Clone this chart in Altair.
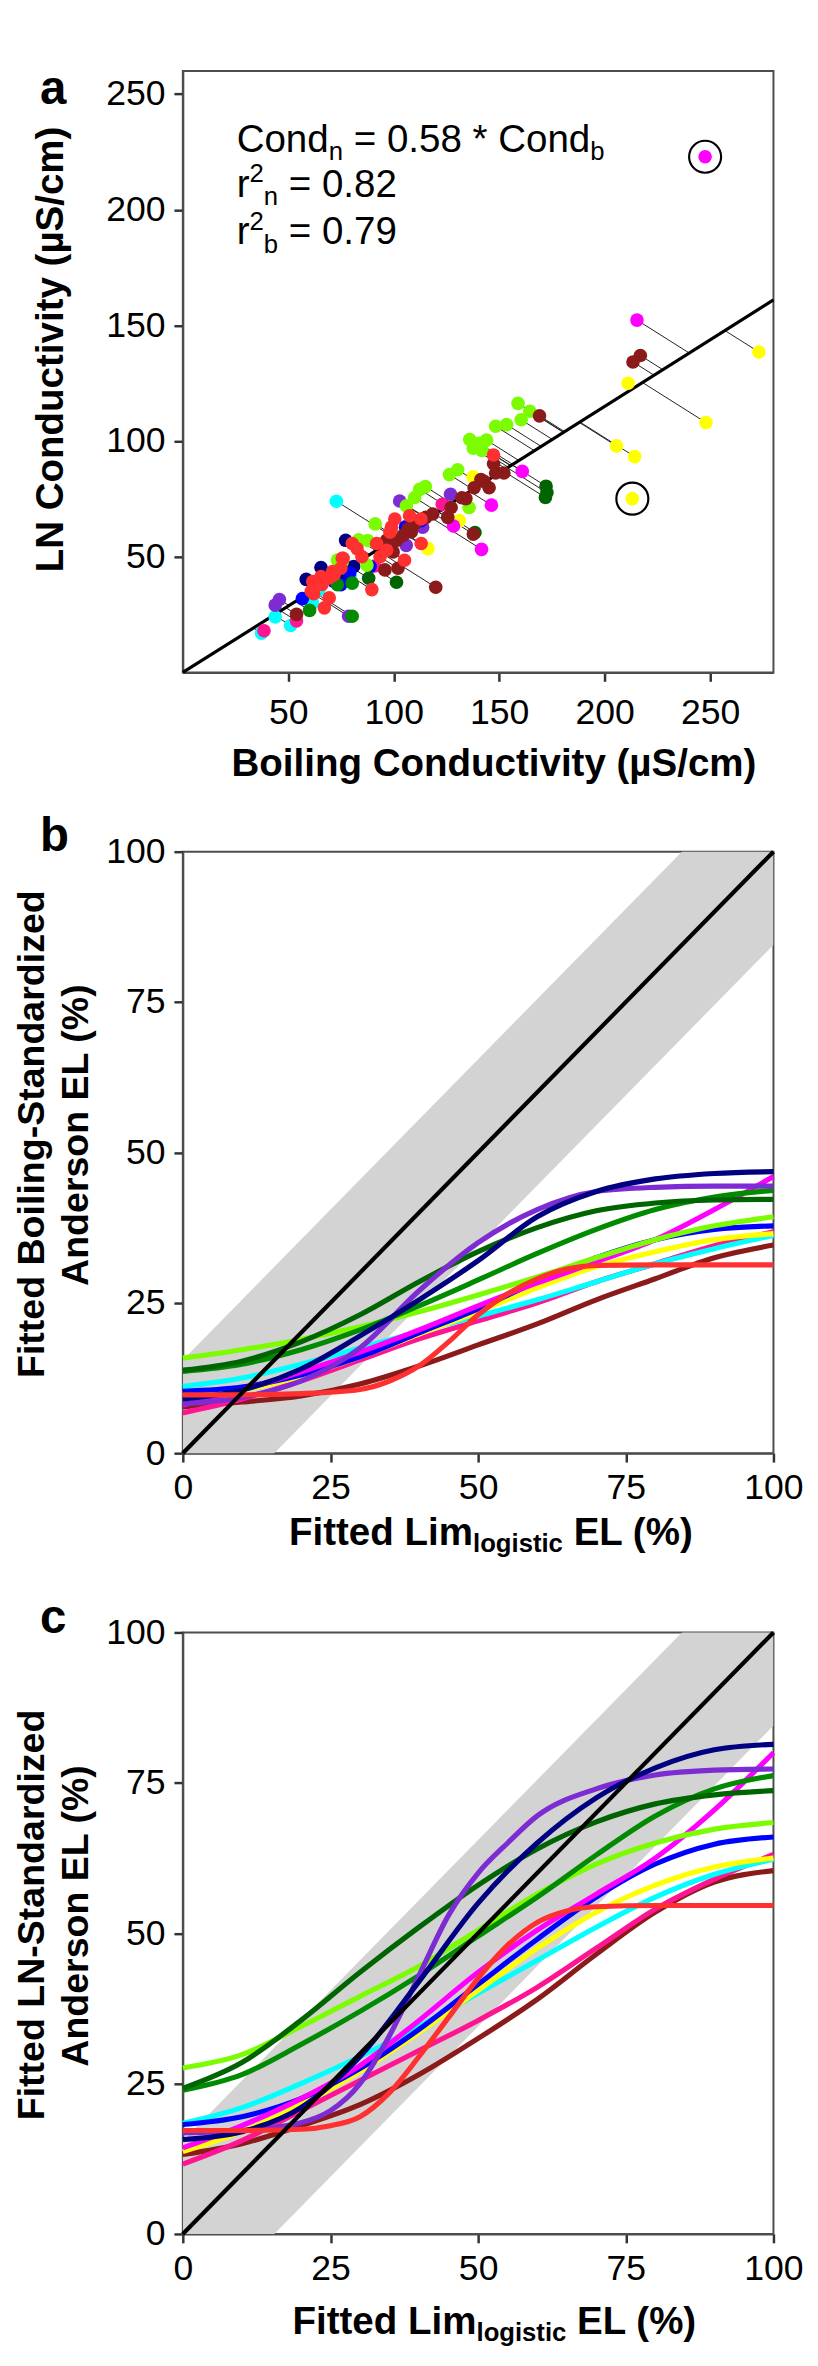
import altair as alt
import pandas as pd

FONT = "Liberation Sans"
W, H = 598, 609
SLOPE = 0.575

# ---------------- Panel a: Boiling (x) vs LN (y) conductivity ----------------
groups = ["cyan", "deeppink", "purple", "navy", "blue", "green", "darkgreen",
          "yellow", "magenta", "chartreuse", "brown", "red"]
palette = ["#00FFFF", "#FF1493", "#7D2BD3", "#000080", "#0000FF", "#008B00",
           "#006400", "#FFFF00", "#FF00FF", "#7CFC00", "#8B1A1A", "#FF3030"]

cyan_b = [72.8, 37.3, 43.8, 51.1, 61.5, 64.6, 79.4]
cyan_n = [74.0, 17.0, 24.0, 20.3, 30.0, 35.7, 42.0]
deeppink_b = [38.5, 53.9, 123.0, 91.0]
deeppink_n = [18.0, 22.3, 72.7, 46.0]
purple_b = [43.8, 45.8, 78.6, 102.8, 126.9, 105.9, 113.7]
purple_n = [29.1, 31.5, 24.3, 74.1, 77.0, 54.9, 62.8]
navy_b = [58.5, 65.5, 77.2, 74.9, 81.0, 70.5]
navy_n = [40.2, 45.3, 57.1, 40.8, 45.8, 42.5]
blue_b = [56.7, 71.7, 88.8, 74.9, 105.6, 112.9, 79.0]
blue_n = [31.9, 39.3, 45.8, 37.9, 62.9, 65.6, 43.0]
green_b = [60.1, 80.3, 80.3, 73.3]
green_n = [26.8, 24.3, 38.6, 37.9]
darkgreen_b = [88.1, 101.3, 138.5, 172.2, 172.6, 171.9]
darkgreen_n = [40.7, 39.0, 60.5, 80.5, 77.7, 75.6]
yellow_b = [273.1, 211.1, 248.0, 205.6, 214.2, 137.6, 131.1, 116.2]
yellow_n = [138.5, 125.0, 108.0, 97.9, 93.3, 84.5, 65.6, 53.5]
magenta_b = [215.3, 160.9, 146.3, 128.3, 141.6]
magenta_n = [152.3, 86.9, 72.3, 63.3, 53.2]
chartreuse_b = [158.9, 164.5, 160.4, 148.3, 153.5, 136.0, 140.6, 144.0, 137.7, 141.8,
                126.4, 130.3, 135.7, 112.3, 115.0, 106.0, 109.9, 83.4, 87.7, 91.2,
                73.3, 87.3, 75.6]
chartreuse_n = [116.3, 112.9, 109.2, 106.4, 107.1, 100.7, 99.0, 100.4, 96.9, 95.9,
                85.5, 87.6, 71.3, 79.1, 80.3, 72.0, 75.6, 57.3, 57.0, 64.2,
                48.6, 46.4, 47.8]
brown_b = [216.9, 213.4, 169.1, 147.3, 152.2, 148.3, 142.8, 145.2, 138.1, 134.2,
           141.3, 127.2, 125.6, 118.5, 108.3, 137.7, 101.3, 104.4, 106.7, 109.8,
           96.6, 99.7, 102.0, 95.8, 119.9, 53.9, 115.2, 132.3]
brown_n = [137.0, 134.2, 110.9, 90.2, 86.2, 86.2, 82.6, 79.8, 79.8, 75.1,
           83.4, 71.3, 67.0, 68.5, 60.7, 59.8, 57.1, 59.2, 62.0, 64.2,
           57.1, 52.1, 45.0, 44.3, 36.8, 25.1, 67.0, 75.5]
red_b = [147.3, 113.0, 107.5, 80.3, 82.6, 84.9, 91.9, 93.5, 96.6, 98.2,
         100.5, 98.9, 105.1, 112.9, 89.6, 75.6, 71.7, 65.5, 61.6, 60.9,
         69.4, 67.1, 71.0, 74.9, 62.4, 69.4, 76.0, 62.0, 66.0]
red_n = [94.0, 55.7, 67.7, 55.7, 53.5, 50.0, 55.7, 50.0, 52.8, 60.6,
         66.3, 62.8, 48.5, 66.3, 35.8, 49.3, 42.2, 41.4, 39.3, 35.1,
         32.2, 27.9, 43.6, 45.0, 37.2, 40.8, 49.3, 34.0, 38.0]
# circled outliers (excluded from the fit)
outlier_grp = ["magenta", "yellow"]
outlier_b = [247.6, 213.1]
outlier_n = [222.9, 75.1]

fit_x = [0, 280]

# ---------------- Panels b and c: fitted curves ----------------
XG = [0, 10, 20, 30, 40, 50, 60, 70, 80, 90, 100]
b_red_x = [0, 10, 20, 30, 35, 40, 45, 50, 55, 60, 65, 70, 80, 100]
c_fine_x = [0, 10, 20, 25, 30, 35, 40, 45, 50, 55, 60, 65, 70, 80, 100]
c_purple_x = [0, 10, 20, 25, 30, 35, 40, 45, 50, 55, 60, 70, 80, 90, 100]

b_brown = [7.7, 8.5, 9.5, 11.5, 14.5, 18.0, 21.5, 25.5, 29.0, 32.5, 34.6]
b_deeppink = [6.7, 9.0, 12.0, 15.5, 19.0, 22.0, 25.0, 28.5, 31.5, 34.5, 36.8]
b_cyan = [11.1, 12.5, 14.8, 17.5, 20.2, 22.8, 25.5, 28.5, 31.5, 34.0, 36.2]
b_yellow = [9.5, 10.5, 12.8, 16.0, 19.8, 23.5, 27.5, 31.0, 33.5, 35.5, 36.5]
b_blue = [10.3, 11.0, 13.0, 16.0, 20.0, 24.0, 28.5, 32.5, 35.5, 37.2, 37.8]
b_magenta = [8.0, 10.5, 13.5, 16.8, 20.5, 24.5, 28.3, 31.8, 35.5, 40.5, 46.0]
b_chartreuse = [15.8, 17.2, 18.9, 21.0, 23.5, 26.3, 29.3, 32.5, 35.5, 37.8, 39.3]
b_green = [13.6, 14.8, 17.2, 20.5, 24.5, 28.8, 33.2, 37.2, 40.5, 42.6, 43.7]
b_darkgreen = [13.8, 15.3, 18.5, 23.0, 28.5, 33.5, 37.5, 40.3, 41.6, 42.1, 42.2]
b_purple = [8.2, 9.3, 12.0, 17.5, 27.0, 35.0, 40.5, 43.5, 44.2, 44.4, 44.4]
b_navy = [9.0, 10.5, 14.0, 19.5, 25.5, 32.0, 39.3, 43.5, 45.6, 46.5, 46.8]
b_red = [9.7, 9.7, 9.9, 10.6, 12.0, 14.5, 18.5, 23.0, 26.5, 29.0, 30.6, 31.2, 31.3, 31.3]

c_brown = [13.2, 15.0, 18.0, 21.5, 26.5, 32.5, 39.0, 46.5, 53.5, 58.5, 60.4]
c_deeppink = [11.6, 15.5, 20.5, 25.5, 30.5, 35.5, 41.0, 47.5, 54.0, 59.0, 63.1]
c_cyan = [18.4, 21.0, 25.0, 29.5, 34.5, 40.0, 45.5, 51.0, 56.0, 59.8, 62.3]
c_yellow = [13.7, 17.0, 21.5, 27.0, 33.5, 40.5, 47.5, 53.5, 58.0, 61.0, 62.5]
c_blue = [18.2, 19.5, 22.5, 27.5, 34.0, 41.5, 49.0, 56.0, 61.5, 64.8, 66.0]
c_magenta = [14.3, 18.0, 22.5, 28.0, 35.5, 43.5, 50.5, 56.5, 62.5, 70.5, 80.0]
c_chartreuse = [27.6, 29.8, 34.5, 39.5, 44.5, 50.5, 56.5, 61.5, 65.0, 67.3, 68.4]
c_green = [23.9, 26.5, 31.5, 37.0, 43.0, 49.5, 56.0, 63.0, 69.5, 74.0, 76.2]
c_darkgreen = [24.2, 28.5, 35.5, 43.5, 51.0, 58.0, 64.0, 68.5, 71.5, 73.0, 73.7]
c_purple = [16.8, 17.2, 18.5, 20.5, 25.0, 33.0, 43.0, 53.0, 60.0, 65.0, 69.5, 74.0, 76.3, 77.1, 77.3]
c_navy = [15.7, 17.0, 21.0, 29.5, 42.0, 55.0, 65.0, 72.5, 77.5, 80.5, 81.4]
c_red = [17.2, 17.2, 17.4, 18.0, 19.5, 23.5, 29.5, 36.0, 42.5, 48.0, 51.8, 53.7, 54.4, 54.6, 54.6]

band_x = [0, 100]
BAND = 15.5
ident_x = [0, 100]

COL = dict(zip(groups, palette))

# ---------------- helpers ----------------
HELV = {' ': 278, 'C': 722, 'o': 556, 'n': 556, 'd': 556, '=': 584, '.': 278, '*': 389,
        'r': 333, 'b': 556}
HELVB = {'F': 611, 'i': 278, 't': 333, 'e': 556, 'd': 611, ' ': 278, 'L': 611, 'm': 889,
         'l': 278, 'o': 611, 'g': 611, 's': 556, 'c': 556, 'E': 667, '(': 333, '%': 889,
         ')': 333}


def twidth(s, size, bold=False):
    tab = HELVB if bold else HELV
    return sum(tab.get(ch, 556) for ch in s) * size / 1000.0


def txt(s, x, y, size, weight="normal", align="left", angle=0):
    return alt.Chart(pd.DataFrame({"t": [s]})).mark_text(
        font=FONT, fontSize=size, fontWeight=weight, align=align,
        baseline="alphabetic", angle=angle, color="black"
    ).encode(text="t:N", x=alt.value(x), y=alt.value(y))


def run(pieces, x0, y0):
    out = []
    x = x0
    for s, size, weight, dy in pieces:
        bold = weight == "bold"
        lead = len(s) - len(s.lstrip(" "))
        x += twidth(" " * lead, size, bold)
        s2 = s.lstrip(" ")
        out.append(txt(s2, x, y0 + dy, size, weight))
        x += twidth(s2, size, bold)
    return out


def axis(values, pad):
    return alt.Axis(values=values, title=None, labelPadding=pad, labelFlush=False,
                    labelOverlap=False, grid=False)


# ---------------- Panel a ----------------
rows = []
for g in groups:
    bs = globals()[g + "_b"]
    ns = globals()[g + "_n"]
    for xb, yn in zip(bs, ns):
        rows.append({"grp": g, "boil": xb, "ln": yn})
df_pts = pd.DataFrame(rows)
df_out = pd.DataFrame({"grp": outlier_grp, "boil": outlier_b, "ln": outlier_n})

xa = alt.X("boil:Q", scale=alt.Scale(domain=[0, 280], nice=False, zero=False),
           axis=axis([50, 100, 150, 200, 250], 15))
ya = alt.Y("ln:Q", scale=alt.Scale(domain=[0, 260], nice=False, zero=False),
           axis=axis([50, 100, 150, 200, 250], 9))
cscale = alt.Scale(domain=groups, range=palette)

seg = alt.Chart(df_pts).transform_calculate(
    fx=f"(datum.boil + datum.ln / {SLOPE}) / 2",
    fy=f"({SLOPE} * datum.boil + datum.ln) / 2",
).mark_rule(color="#222222", strokeWidth=1).encode(
    x=xa, y=ya, x2="fx:Q", y2="fy:Q")

fit = alt.Chart(pd.DataFrame({"boil": fit_x})).transform_calculate(
    ln=f"{SLOPE} * datum.boil"
).mark_line(color="black", strokeWidth=3.2).encode(x=xa, y=ya)

pts = alt.Chart(df_pts).mark_circle(size=190, opacity=1).encode(
    x=xa, y=ya, color=alt.Color("grp:N", scale=cscale, legend=None))
out_pts = alt.Chart(df_out).mark_circle(size=190, opacity=1).encode(
    x=xa, y=ya, color=alt.Color("grp:N", scale=cscale, legend=None))
rings = alt.Chart(df_out).mark_point(shape="circle", size=1050, filled=False,
                                     color="black", strokeWidth=2.2, opacity=1).encode(x=xa, y=ya)

ann = []
ann += run([("Cond", 39, "normal", 0), ("n", 26, "normal", 8),
            (" = 0.58 * Cond", 39, "normal", 0), ("b", 26, "normal", 8)], 54.5, 82.3)
ann += run([("r", 39, "normal", 0), ("2", 26, "normal", -15), ("n", 26, "normal", 8.4),
            (" = 0.82", 39, "normal", 0)], 54.5, 127.3)
ann += run([("r", 39, "normal", 0), ("2", 26, "normal", -15), ("b", 26, "normal", 8.4),
            (" = 0.79", 39, "normal", 0)], 54.5, 175.7)
ann.append(txt("a", -144.5, 34, 48, "bold"))
ann.append(txt("Boiling Conductivity (\u00b5S/cm)", 315, 714, 39, "bold", align="center"))
ann.append(txt("LN Conductivity (\u00b5S/cm)", -121.5, 282, 39, "bold", align="center", angle=270))

panel_a = alt.layer(seg, fit, pts, out_pts, rings, *ann).properties(width=W, height=H)


# ---------------- Panels b / c ----------------
def curve_panel(curves, letter, ytitle1, xlab_pad, title_x0, title_y, letter_y):
    xs = alt.X("x:Q", scale=alt.Scale(domain=[0, 100], nice=False, zero=False),
               axis=axis([0, 25, 50, 75, 100], xlab_pad))
    ys = alt.Y("y:Q", scale=alt.Scale(domain=[0, 100], nice=False, zero=False),
               axis=axis([0, 25, 50, 75, 100], 9))
    band = alt.Chart(pd.DataFrame({"x": band_x})).transform_calculate(
        y=f"datum.x - {BAND}", y2=f"datum.x + {BAND}"
    ).mark_area(color="#D3D3D3", clip=True, opacity=1).encode(x=xs, y=ys, y2="y2:Q")
    layers = [band]
    for name, xv, yv in curves:
        d = pd.DataFrame({"x": xv, "y": yv})
        layers.append(alt.Chart(d).mark_line(color=COL[name], strokeWidth=5.2,
                                             interpolate="monotone").encode(x=xs, y=ys))
    ident = alt.Chart(pd.DataFrame({"x": ident_x})).transform_calculate(
        y="datum.x").mark_line(color="black", strokeWidth=4.2).encode(x=xs, y=ys)
    layers.append(ident)
    layers.append(txt(letter, -144.5, letter_y, 48, "bold"))
    layers.append(txt(ytitle1, -140.5, 286, 38, "bold", align="center", angle=270))
    layers.append(txt("Anderson EL (%)", -96.5, 287, 38, "bold", align="center", angle=270))
    layers += run([("Fitted Lim", 39, "bold", 0), ("logistic", 26, "bold", 7),
                   (" EL (%)", 39, "bold", 0)], title_x0, title_y)
    return alt.layer(*layers).properties(width=W, height=H)


curves_b = [("brown", XG, b_brown), ("deeppink", XG, b_deeppink), ("cyan", XG, b_cyan),
            ("yellow", XG, b_yellow), ("blue", XG, b_blue), ("magenta", XG, b_magenta),
            ("chartreuse", XG, b_chartreuse), ("green", XG, b_green),
            ("darkgreen", XG, b_darkgreen), ("purple", XG, b_purple), ("navy", XG, b_navy),
            ("red", b_red_x, b_red)]
curves_c = [("brown", XG, c_brown), ("deeppink", XG, c_deeppink), ("cyan", XG, c_cyan),
            ("yellow", XG, c_yellow), ("blue", XG, c_blue), ("magenta", XG, c_magenta),
            ("chartreuse", XG, c_chartreuse), ("green", XG, c_green),
            ("darkgreen", XG, c_darkgreen), ("purple", c_purple_x, c_purple),
            ("navy", XG, c_navy), ("red", c_fine_x, c_red)]

panel_b = curve_panel(curves_b, "b", "Fitted Boiling-Standardized", 8.5, 107.5, 702, -1)
panel_c = curve_panel(curves_c, "c", "Fitted LN-Standardized", 9.5, 111, 710, 1)

chart = alt.vconcat(panel_a, panel_b, panel_c, spacing=181.5, bounds="flush").properties(
    padding={"left": 5, "top": 44, "right": 5, "bottom": 5}
).configure_view(stroke="#4D4D4D", strokeWidth=2).configure_axis(
    labelFont=FONT, labelFontSize=36, labelColor="black", tickSize=9, tickWidth=2.5,
    tickColor="#333333", domainColor="#4D4D4D", domainWidth=2
)

chart.save("out.html", embed_options={"renderer": "svg", "actions": False})
